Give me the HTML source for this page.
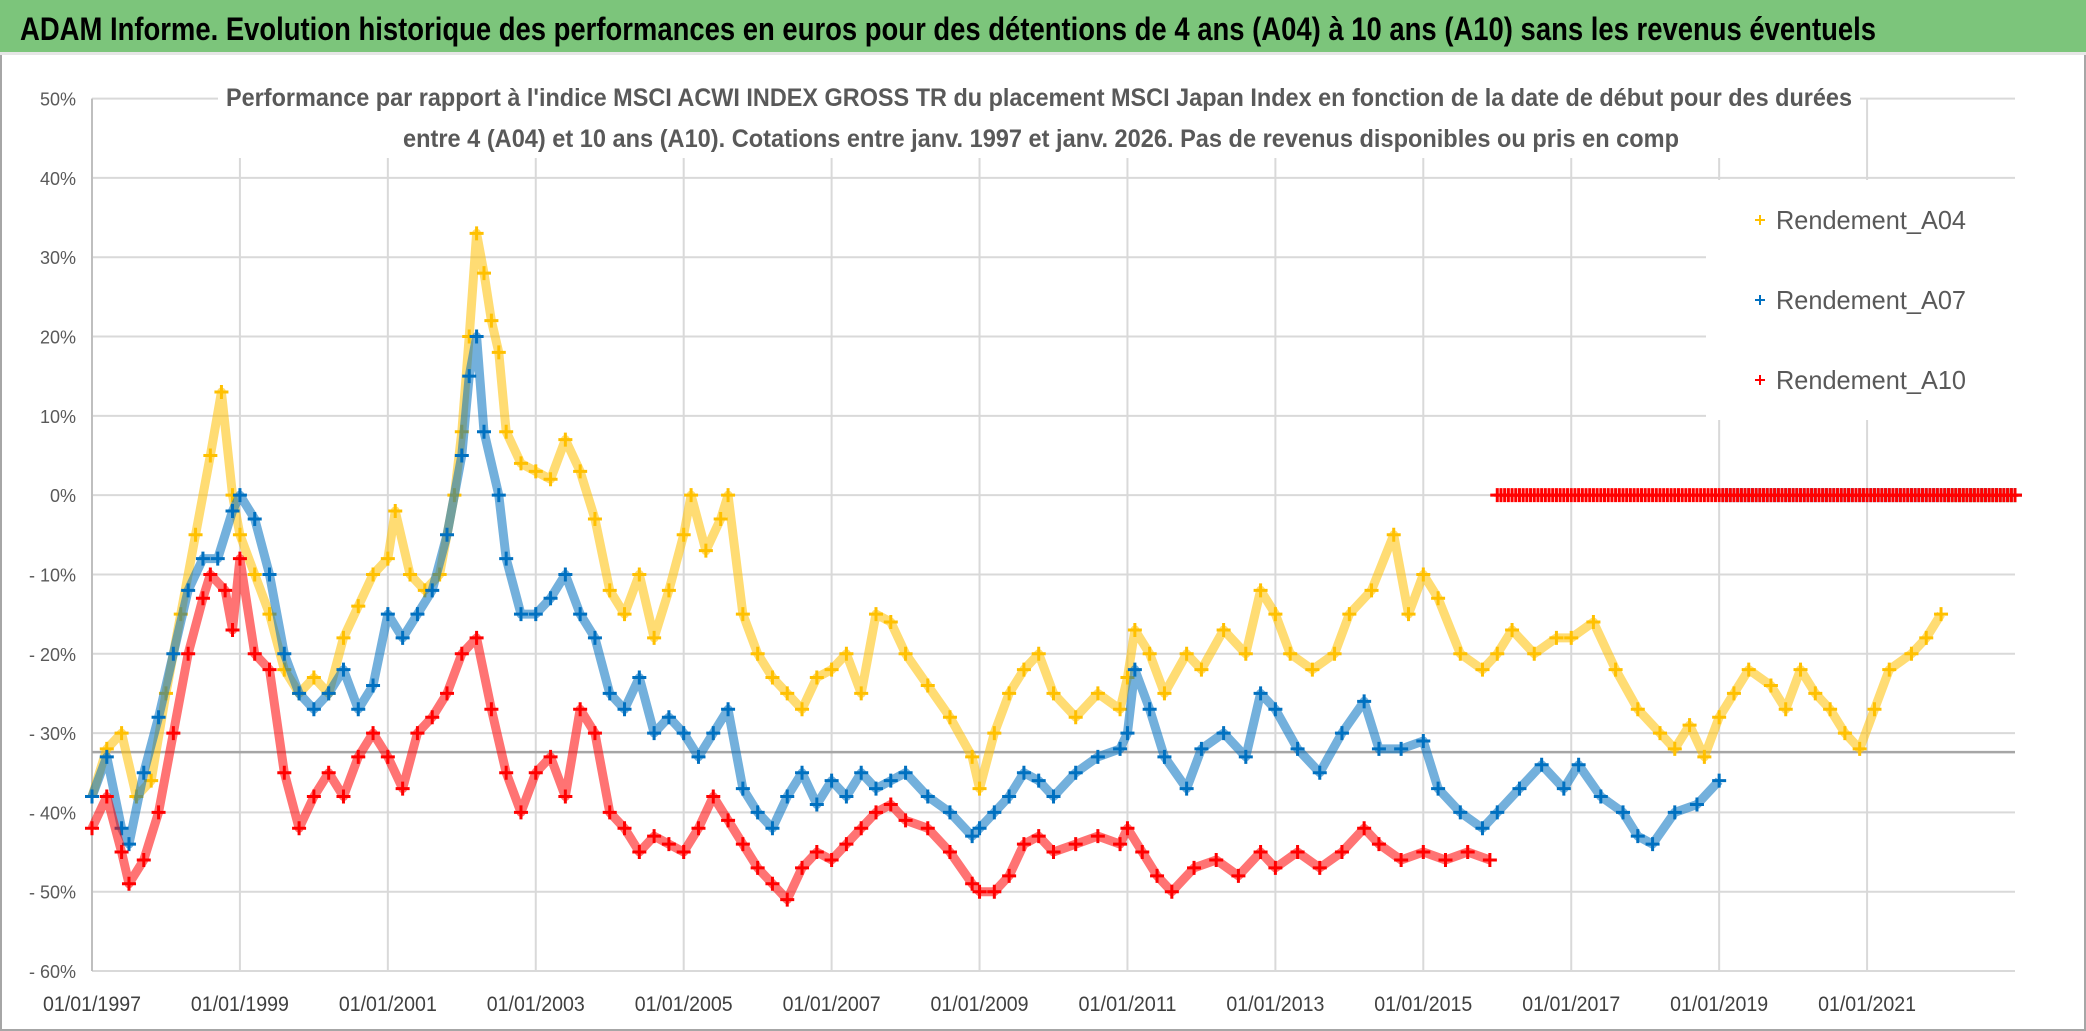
<!DOCTYPE html>
<html><head><meta charset="utf-8">
<style>
body{margin:0;width:2086px;height:1031px;overflow:hidden;background:#fff;font-family:"Liberation Sans",sans-serif;}
#frame{position:absolute;left:0;top:0;width:2082px;height:1027px;border:2px solid #a6a6a6;}
svg{position:absolute;left:0;top:0;}
</style></head><body>
<div id="frame"></div>
<svg id="chart" width="2086" height="1031">
<rect x="0" y="0" width="2086" height="52" fill="#7cc57b"/>
<rect x="0" y="52" width="2086" height="3" fill="#e6e6e6"/>
<text x="20" y="40" font-size="32" font-weight="bold" fill="#000" textLength="1856" lengthAdjust="spacingAndGlyphs">ADAM Informe. Evolution historique des performances en euros pour des détentions de 4 ans (A04) à 10 ans (A10) sans les revenus éventuels</text>
</svg>
<script>
const yTicks=[50,40,30,20,10,0,-10,-20,-30,-40,-50,-60];
const yTickLabels=["50%","40%","30%","20%","10%","0%","- 10%","- 20%","- 30%","- 40%","- 50%","- 60%"];
const xTicks=[1997,1999,2001,2003,2005,2007,2009,2011,2013,2015,2017,2019,2021];
const xTickLabels=["01/01/1997","01/01/1999","01/01/2001","01/01/2003","01/01/2005","01/01/2007","01/01/2009","01/01/2011","01/01/2013","01/01/2015","01/01/2017","01/01/2019","01/01/2021"];
const seriesNames=["Rendement_A04","Rendement_A07","Rendement_A10"];
const datesA04=[1997.0,1997.2,1997.4,1997.6,1997.8,1998.0,1998.2,1998.4,1998.6,1998.75,1998.9,1999.0,1999.2,1999.4,1999.6,1999.8,2000.0,2000.2,2000.4,2000.6,2000.8,2001.0,2001.1,2001.3,2001.5,2001.7,2001.9,2002.0,2002.1,2002.2,2002.3,2002.4,2002.5,2002.6,2002.8,2003.0,2003.2,2003.4,2003.6,2003.8,2004.0,2004.2,2004.4,2004.6,2004.8,2005.0,2005.1,2005.3,2005.5,2005.6,2005.8,2006.0,2006.2,2006.4,2006.6,2006.8,2007.0,2007.2,2007.4,2007.6,2007.8,2008.0,2008.3,2008.6,2008.9,2009.0,2009.2,2009.4,2009.6,2009.8,2010.0,2010.3,2010.6,2010.9,2011.0,2011.1,2011.3,2011.5,2011.8,2012.0,2012.3,2012.6,2012.8,2013.0,2013.2,2013.5,2013.8,2014.0,2014.3,2014.6,2014.8,2015.0,2015.2,2015.5,2015.8,2016.0,2016.2,2016.5,2016.8,2017.0,2017.3,2017.6,2017.9,2018.2,2018.4,2018.6,2018.8,2019.0,2019.2,2019.4,2019.7,2019.9,2020.1,2020.3,2020.5,2020.7,2020.9,2021.1,2021.3,2021.6,2021.8,2022.0];
const valuesA04=[-38,-32,-30,-38,-36,-25,-15,-5,5,13,0,-5,-10,-15,-22,-25,-23,-25,-18,-14,-10,-8,-2,-10,-12,-10,0,8,20,33,28,22,18,8,4,3,2,7,3,-3,-12,-15,-10,-18,-12,-5,0,-7,-3,0,-15,-20,-23,-25,-27,-23,-22,-20,-25,-15,-16,-20,-24,-28,-33,-37,-30,-25,-22,-20,-25,-28,-25,-27,-23,-17,-20,-25,-20,-22,-17,-20,-12,-15,-20,-22,-20,-15,-12,-5,-15,-10,-13,-20,-22,-20,-17,-20,-18,-18,-16,-22,-27,-30,-32,-29,-33,-28,-25,-22,-24,-27,-22,-25,-27,-30,-32,-27,-22,-20,-18,-15];
const datesA07=[1997.0,1997.2,1997.4,1997.5,1997.7,1997.9,1998.1,1998.3,1998.5,1998.7,1998.9,1999.0,1999.2,1999.4,1999.6,1999.8,2000.0,2000.2,2000.4,2000.6,2000.8,2001.0,2001.2,2001.4,2001.6,2001.8,2002.0,2002.1,2002.2,2002.3,2002.5,2002.6,2002.8,2003.0,2003.2,2003.4,2003.6,2003.8,2004.0,2004.2,2004.4,2004.6,2004.8,2005.0,2005.2,2005.4,2005.6,2005.8,2006.0,2006.2,2006.4,2006.6,2006.8,2007.0,2007.2,2007.4,2007.6,2007.8,2008.0,2008.3,2008.6,2008.9,2009.0,2009.2,2009.4,2009.6,2009.8,2010.0,2010.3,2010.6,2010.9,2011.0,2011.1,2011.3,2011.5,2011.8,2012.0,2012.3,2012.6,2012.8,2013.0,2013.3,2013.6,2013.9,2014.2,2014.4,2014.7,2015.0,2015.2,2015.5,2015.8,2016.0,2016.3,2016.6,2016.9,2017.1,2017.4,2017.7,2017.9,2018.1,2018.4,2018.7,2019.0];
const valuesA07=[-38,-33,-42,-44,-35,-28,-20,-12,-8,-8,-2,0,-3,-10,-20,-25,-27,-25,-22,-27,-24,-15,-18,-15,-12,-5,5,15,20,8,0,-8,-15,-15,-13,-10,-15,-18,-25,-27,-23,-30,-28,-30,-33,-30,-27,-37,-40,-42,-38,-35,-39,-36,-38,-35,-37,-36,-35,-38,-40,-43,-42,-40,-38,-35,-36,-38,-35,-33,-32,-30,-22,-27,-33,-37,-32,-30,-33,-25,-27,-32,-35,-30,-26,-32,-32,-31,-37,-40,-42,-40,-37,-34,-37,-34,-38,-40,-43,-44,-40,-39,-36];
const datesA10=[1997.0,1997.2,1997.4,1997.5,1997.7,1997.9,1998.1,1998.3,1998.5,1998.6,1998.8,1998.9,1999.0,1999.2,1999.4,1999.6,1999.8,2000.0,2000.2,2000.4,2000.6,2000.8,2001.0,2001.2,2001.4,2001.6,2001.8,2002.0,2002.2,2002.4,2002.6,2002.8,2003.0,2003.2,2003.4,2003.6,2003.8,2004.0,2004.2,2004.4,2004.6,2004.8,2005.0,2005.2,2005.4,2005.6,2005.8,2006.0,2006.2,2006.4,2006.6,2006.8,2007.0,2007.2,2007.4,2007.6,2007.8,2008.0,2008.3,2008.6,2008.9,2009.0,2009.2,2009.4,2009.6,2009.8,2010.0,2010.3,2010.6,2010.9,2011.0,2011.2,2011.4,2011.6,2011.9,2012.2,2012.5,2012.8,2013.0,2013.3,2013.6,2013.9,2014.2,2014.4,2014.7,2015.0,2015.3,2015.6,2015.9];
const valuesA10=[-42,-38,-45,-49,-46,-40,-30,-20,-13,-10,-12,-17,-8,-20,-22,-35,-42,-38,-35,-38,-33,-30,-33,-37,-30,-28,-25,-20,-18,-27,-35,-40,-35,-33,-38,-27,-30,-40,-42,-45,-43,-44,-45,-42,-38,-41,-44,-47,-49,-51,-47,-45,-46,-44,-42,-40,-39,-41,-42,-45,-49,-50,-50,-48,-44,-43,-45,-44,-43,-44,-42,-45,-48,-50,-47,-46,-48,-45,-47,-45,-47,-45,-42,-44,-46,-45,-46,-45,-46];
const zeroStartA04=2022.1, zeroStartA07=2019.05, zeroStartA10=2016.0, zeroEnd=2023.0;

const NS="http://www.w3.org/2000/svg";
const svg=document.getElementById('chart');
const X0=92,X1=2015,Y50=98.6,Ym60=971;
const xScale=y=>X0+(y-1997)*(X1-X0)/(2023-1997);
const yScale=v=>Y50+(50-v)*(Ym60-Y50)/110;
function mk(tag,attrs){const e=document.createElementNS(NS,tag);for(const k in attrs)e.setAttribute(k,attrs[k]);svg.appendChild(e);return e;}

yTicks.forEach((t,i)=>{
  const l=mk('line',{x1:X0,x2:X1,y1:yScale(t),y2:yScale(t),stroke:'#d9d9d9','stroke-width':2});
  
  
  const tx=mk('text',{x:76,y:yScale(t)+7,'text-anchor':'end','font-size':18,fill:'#595959'});
  tx.textContent=yTickLabels[i];
  
  
});
xTicks.forEach((t,i)=>{
  const l=mk('line',{x1:xScale(t),x2:xScale(t),y1:Y50,y2:Ym60,stroke:'#d9d9d9','stroke-width':2});
  
  
  const tx=mk('text',{x:xScale(t),y:1011,'text-anchor':'middle','font-size':21,fill:'#404040',textLength:98,lengthAdjust:'spacingAndGlyphs'});
  tx.textContent=xTickLabels[i];
  
  
});
const ax=mk('line',{x1:X0,x2:X0,y1:Y50,y2:Ym60,stroke:'#bfbfbf','stroke-width':2});


const refl=mk('line',{x1:X0,x2:X1,y1:yScale(-32.4),y2:yScale(-32.4),stroke:'#a6a6a6','stroke-width':2.5});



const tb=mk('rect',{x:218,y:78,width:1642,height:80,fill:'#fff'});


const t1=mk('text',{x:226,y:106,'font-size':25,fill:'#595959','font-weight':'bold',textLength:1626,lengthAdjust:'spacingAndGlyphs'});
t1.textContent="Performance  par rapport à l'indice MSCI ACWI INDEX GROSS TR  du placement MSCI Japan Index en fonction de la date de début pour des durées";


const t2=mk('text',{x:403,y:147,'font-size':25,fill:'#595959','font-weight':'bold',textLength:1276,lengthAdjust:'spacingAndGlyphs'});
t2.textContent="entre 4 (A04) et 10 ans (A10). Cotations entre janv. 1997 et janv. 2026. Pas de revenus disponibles ou pris en comp";



const colors=['#ffc000','#0070c0','#ff0000'];
function zeros(start){const d=[];for(let t=start;t<=zeroEnd+1e-9;t+=0.05)d.push(t);return d;}
function drawSeries(dates,vals,color,name,zeroStart){
  const g=document.createElementNS(NS,'g');svg.appendChild(g);
  
  
  const pts=dates.map((d,i)=>xScale(d)+','+yScale(vals[i])).join(' ');
  const pl=document.createElementNS(NS,'polyline');
  pl.setAttribute('points',pts);pl.setAttribute('fill','none');pl.setAttribute('stroke',color);pl.setAttribute('stroke-width',9);pl.setAttribute('stroke-opacity',0.55);pl.setAttribute('stroke-linejoin','round');
  g.appendChild(pl);
  const allD=dates.concat(zeros(zeroStart));
  const allV=vals.concat(zeros(zeroStart).map(()=>0));
  allD.forEach((d,i)=>{
    const x=xScale(d),y=yScale(allV[i]);
    const p=document.createElementNS(NS,'path');
    p.setAttribute('d',`M${x-7},${y}H${x+7}M${x},${y-7}V${y+7}`);
    p.setAttribute('stroke',color);p.setAttribute('stroke-width',3);
    
    
    g.appendChild(p);
  });
}
drawSeries(datesA04,valuesA04,colors[0],'series-a04',zeroStartA04);
drawSeries(datesA07,valuesA07,colors[1],'series-a07',zeroStartA07);
drawSeries(datesA10,valuesA10,colors[2],'series-a10',zeroStartA10);

const lb=mk('rect',{x:1706,y:180,width:309,height:240,fill:'#fff'});


[220,300,380].forEach((ly,i)=>{
  const m=mk('path',{d:`M1755,${ly}h10M1760,${ly-5}v10`,stroke:colors[i],'stroke-width':2});
  
  
  const tx=mk('text',{x:1776,y:ly+9,'font-size':26,fill:'#595959',textLength:190,lengthAdjust:'spacingAndGlyphs'});
  tx.textContent=seriesNames[i];
  
  
});
</script>
</body></html>
